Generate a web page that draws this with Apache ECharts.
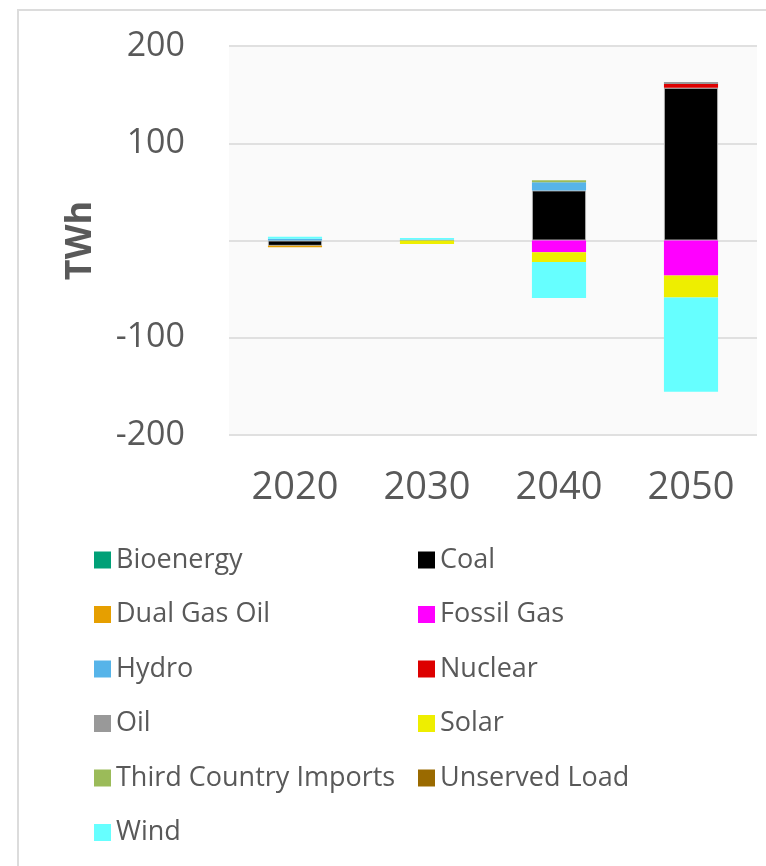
<!DOCTYPE html>
<html>
<head>
<meta charset="utf-8">
<title>TWh</title>
<script src="https://cdn.jsdelivr.net/npm/echarts@6/dist/echarts.min.js"></script>
<style>
    html,body{margin:0;padding:0;background:#fff;}
    #main{position:absolute;left:0;top:0;width:766px;height:866px;}
    #frame{position:absolute;left:17px;top:9px;width:760px;height:870px;border-top:2px solid #dcdcdc;border-left:2px solid #dcdcdc;pointer-events:none;}
</style>
</head>
<body>
<div id="main"></div>
<div id="frame"></div>
<script>
// 年份
var years = ["2020", "2030", "2040", "2050"];
// y轴刻度
var yTicks = [-200, -100, 0, 100, 200];

// 各类电源 (TWh)
var bioenergy = [0, 0, 0, 0];
var coal = [-5.5, 0, 51.5, 157];
var dualGasOil = [-1.4, 0, 0, 0];
var fossilGas = [0, 0, -12, -36];
var hydro = [1.8, 1.0, 8.5, 0];
var nuclear = [0, 0, 0, 4];
var oil = [0, 0, 0, 2];
var solar = [0, -3.5, -10, -22.5];
var thirdCountryImports = [0, 0, 2, 0];
var unservedLoad = [0, 0, 0, 0];
var wind = [2.0, 1.5, -37, -97];

var names = ["Bioenergy", "Coal", "Dual Gas Oil", "Fossil Gas", "Hydro", "Nuclear", "Oil", "Solar", "Third Country Imports", "Unserved Load", "Wind"];
var values = [bioenergy, coal, dualGasOil, fossilGas, hydro, nuclear, oil, solar, thirdCountryImports, unservedLoad, wind];
var colors = ["#00a077", "#000000", "#e69f00", "#ff00ff", "#56b4e9", "#dd0000", "#999999", "#eeee00", "#9bbb59", "#9a6a00", "#66ffff"];

var leftLegend = ["Bioenergy", "Dual Gas Oil", "Hydro", "Oil", "Third Country Imports", "Wind"];
var rightLegend = ["Coal", "Fossil Gas", "Nuclear", "Solar", "Unserved Load"];

var textColor = "#595959";
var fontName = "'Open Sans', 'Noto Sans', sans-serif";

function $each(arr, fn){
    for (var i = 0; i < arr.length; i++) {
        fn(i, arr[i]);
    }
}

function legendBox(data, left){
    return {
        data: data,
        orient: "vertical",
        left: left,
        top: 540,
        itemWidth: 17,
        itemHeight: 17,
        itemGap: 24.5,
        icon: "rect",
        selectedMode: false,
        itemStyle: {borderWidth: 0},
        textStyle: {
            color: textColor,
            fontSize: 27,
            fontFamily: fontName,
            lineHeight: 30
        }
    };
}

var series = [];
$each(names, function(i, n){
    series.push({
        name: n,
        type: "bar",
        stack: "total",
        barWidth: "41%",
        data: values[i],
        itemStyle: {
            color: colors[i],
            borderColor: n == "Coal" ? "#aaaaaa" : null,
            borderWidth: n == "Coal" ? 1 : 0
        },
        emphasis: {disabled: true}
    });
});

var myChart = echarts.init(document.getElementById('main'));
var option = {
    animation: false,
    backgroundColor: "#ffffff",
    textStyle: {fontFamily: fontName},
    color: colors,
    legend: [legendBox(leftLegend, 89), legendBox(rightLegend, 413)],
    grid: {
        left: 229,
        right: 9,
        top: 46,
        bottom: 431,
        show: true,
        backgroundColor: "#fafafa",
        borderWidth: 0
    },
    xAxis: {
        type: "category",
        data: years,
        axisLine: {show: false},
        axisTick: {show: false},
        axisLabel: {
            color: textColor,
            fontSize: 38,
            fontFamily: fontName,
            margin: 34
        }
    },
    yAxis: {
        type: "value",
        min: yTicks[0],
        max: yTicks[yTicks.length - 1],
        interval: 100,
        name: "TWh",
        nameLocation: "middle",
        nameGap: 130,
        nameRotate: 90,
        nameTextStyle: {
            color: textColor,
            fontSize: 36,
            fontWeight: "bold",
            fontFamily: fontName
        },
        axisLine: {show: false},
        axisTick: {show: false},
        splitLine: {lineStyle: {color: "#e0e0e0", width: 2}},
        axisLabel: {
            color: textColor,
            fontSize: 34,
            fontFamily: fontName,
            margin: 44,
            formatter: function(v){
                return v == 0 ? "" : String(v);
            }
        }
    },
    series: series
};
myChart.setOption(option);
</script>
</body>
</html>
